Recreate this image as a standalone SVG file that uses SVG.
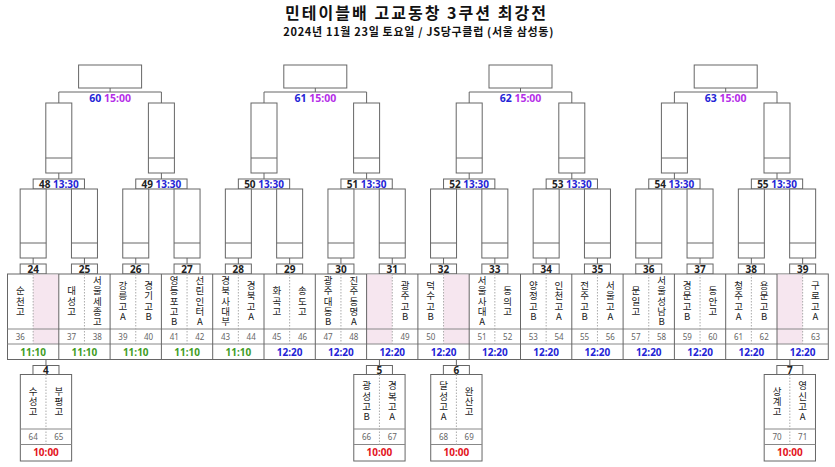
<svg xmlns="http://www.w3.org/2000/svg" width="835" height="467" viewBox="0 0 835 467">
<defs>
<style>
.bx{fill:#fff;stroke:#666;stroke-width:1}
.ln{stroke:#666;stroke-width:1;fill:none}
.lt{stroke:#888;stroke-width:1;fill:none}
.ds{stroke:#aaa;stroke-width:1;stroke-dasharray:1.5 1.5;fill:none}
.pk{fill:#f6e6ef}
.lb{font-family:"Noto Sans","Noto Sans CJK KR",sans-serif;font-weight:bold;font-size:10px;text-anchor:middle;fill:#222}
.l3{font-size:10.5px}
.nm{font-family:"Noto Sans CJK KR","Noto Sans",sans-serif;font-size:9.5px;text-anchor:middle;fill:#222;writing-mode:vertical-rl;text-orientation:upright;letter-spacing:0.9px}
.nu{font-family:"Noto Sans","Noto Sans CJK KR",sans-serif;font-size:8px;text-anchor:middle;fill:#666}
.tm{font-family:"Noto Sans","Noto Sans CJK KR",sans-serif;font-weight:bold;font-size:10px;text-anchor:middle}
.bl{fill:#2424d6}.mg{fill:#b52ee8}.gr{fill:#3f9c1f}.rd{fill:#e3141c}
.ti{font-family:"Noto Sans CJK KR","Noto Sans",sans-serif;font-weight:bold;text-anchor:middle;fill:#111}
</style>
</defs>
<rect width="835" height="467" fill="#fff"/>
<g id="title">
<text class="ti" x="415.5" y="18.7" font-size="16" textLength="261" lengthAdjust="spacing">민테이블배 고교동창 3쿠션 최강전</text>
<text class="ti" x="418.3" y="36" font-size="11" textLength="270" lengthAdjust="spacing">2024년 11월 23일 토요일 / JS당구클럽 (서울 삼성동)</text>
</g>
<g id="connectors" class="ln">
<path d="M58.8 103V92H161.4V103M110.1 88V92"/>
<path d="M264 103V92H366.6V103M315.3 88V92"/>
<path d="M469.2 103V92H571.8V103M520.5 88V92"/>
<path d="M674.4 103V92H777V103M725.7 88V92"/>
<path d="M58.8 173V179M161.4 173V179M264 173V179M366.6 173V179M469.2 173V179M571.8 173V179M674.4 173V179M777 173V179"/>
<path d="M33.15 258V264M84.45 258V264M135.75 258V264M187.05 258V264M238.35 258V264M289.65 258V264M340.95 258V264M392.25 258V264M443.55 258V264M494.85 258V264M546.15 258V264M597.45 258V264M648.75 258V264M700.05 258V264M751.35 258V264M802.65 258V264"/>
<path d="M45.98 359.5V365.5M379.43 359.5V365.5M456.38 359.5V365.5M789.83 359.5V365.5"/>
</g>
<g id="m60"><rect class="bx" x="78.6" y="65" width="63" height="23"/><text class="lb l3" x="110.1" y="101.5"><tspan class="bl">60</tspan> <tspan class="mg">15:00</tspan></text></g>
<g id="m61"><rect class="bx" x="283.8" y="65" width="63" height="23"/><text class="lb l3" x="315.3" y="101.5"><tspan class="bl">61</tspan> <tspan class="mg">15:00</tspan></text></g>
<g id="m62"><rect class="bx" x="489" y="65" width="63" height="23"/><text class="lb l3" x="520.5" y="101.5"><tspan class="bl">62</tspan> <tspan class="mg">15:00</tspan></text></g>
<g id="m63"><rect class="bx" x="694.2" y="65" width="63" height="23"/><text class="lb l3" x="725.7" y="101.5"><tspan class="bl">63</tspan> <tspan class="mg">15:00</tspan></text></g>
<g id="m48"><rect class="bx" x="45.8" y="103" width="26" height="70"/><path class="ln" d="M45.8 158H71.8"/><rect class="bx" x="33.15" y="179" width="51.3" height="10"/><text class="lb" x="58.8" y="187.6">48 <tspan class="bl">13:30</tspan></text></g>
<g id="m49"><rect class="bx" x="148.4" y="103" width="26" height="70"/><path class="ln" d="M148.4 158H174.4"/><rect class="bx" x="135.75" y="179" width="51.3" height="10"/><text class="lb" x="161.4" y="187.6">49 <tspan class="bl">13:30</tspan></text></g>
<g id="m50"><rect class="bx" x="251" y="103" width="26" height="70"/><path class="ln" d="M251 158H277"/><rect class="bx" x="238.35" y="179" width="51.3" height="10"/><text class="lb" x="264" y="187.6">50 <tspan class="bl">13:30</tspan></text></g>
<g id="m51"><rect class="bx" x="353.6" y="103" width="26" height="70"/><path class="ln" d="M353.6 158H379.6"/><rect class="bx" x="340.95" y="179" width="51.3" height="10"/><text class="lb" x="366.6" y="187.6">51 <tspan class="bl">13:30</tspan></text></g>
<g id="m52"><rect class="bx" x="456.2" y="103" width="26" height="70"/><path class="ln" d="M456.2 158H482.2"/><rect class="bx" x="443.55" y="179" width="51.3" height="10"/><text class="lb" x="469.2" y="187.6">52 <tspan class="bl">13:30</tspan></text></g>
<g id="m53"><rect class="bx" x="558.8" y="103" width="26" height="70"/><path class="ln" d="M558.8 158H584.8"/><rect class="bx" x="546.15" y="179" width="51.3" height="10"/><text class="lb" x="571.8" y="187.6">53 <tspan class="bl">13:30</tspan></text></g>
<g id="m54"><rect class="bx" x="661.4" y="103" width="26" height="70"/><path class="ln" d="M661.4 158H687.4"/><rect class="bx" x="648.75" y="179" width="51.3" height="10"/><text class="lb" x="674.4" y="187.6">54 <tspan class="bl">13:30</tspan></text></g>
<g id="m55"><rect class="bx" x="764" y="103" width="26" height="70"/><path class="ln" d="M764 158H790"/><rect class="bx" x="751.35" y="179" width="51.3" height="10"/><text class="lb" x="777" y="187.6">55 <tspan class="bl">13:30</tspan></text></g>
<g id="r32-heads">
<g id="m24h"><rect class="bx" x="20.15" y="189" width="26" height="69"/><path class="ln" d="M20.15 243H46.15"/><rect class="bx" x="20.15" y="264" width="26" height="10"/><text class="lb" x="33.15" y="272.6">24</text></g>
<g id="m25h"><rect class="bx" x="71.45" y="189" width="26" height="69"/><path class="ln" d="M71.45 243H97.45"/><rect class="bx" x="71.45" y="264" width="26" height="10"/><text class="lb" x="84.45" y="272.6">25</text></g>
<g id="m26h"><rect class="bx" x="122.75" y="189" width="26" height="69"/><path class="ln" d="M122.75 243H148.75"/><rect class="bx" x="122.75" y="264" width="26" height="10"/><text class="lb" x="135.75" y="272.6">26</text></g>
<g id="m27h"><rect class="bx" x="174.05" y="189" width="26" height="69"/><path class="ln" d="M174.05 243H200.05"/><rect class="bx" x="174.05" y="264" width="26" height="10"/><text class="lb" x="187.05" y="272.6">27</text></g>
<g id="m28h"><rect class="bx" x="225.35" y="189" width="26" height="69"/><path class="ln" d="M225.35 243H251.35"/><rect class="bx" x="225.35" y="264" width="26" height="10"/><text class="lb" x="238.35" y="272.6">28</text></g>
<g id="m29h"><rect class="bx" x="276.65" y="189" width="26" height="69"/><path class="ln" d="M276.65 243H302.65"/><rect class="bx" x="276.65" y="264" width="26" height="10"/><text class="lb" x="289.65" y="272.6">29</text></g>
<g id="m30h"><rect class="bx" x="327.95" y="189" width="26" height="69"/><path class="ln" d="M327.95 243H353.95"/><rect class="bx" x="327.95" y="264" width="26" height="10"/><text class="lb" x="340.95" y="272.6">30</text></g>
<g id="m31h"><rect class="bx" x="379.25" y="189" width="26" height="69"/><path class="ln" d="M379.25 243H405.25"/><rect class="bx" x="379.25" y="264" width="26" height="10"/><text class="lb" x="392.25" y="272.6">31</text></g>
<g id="m32h"><rect class="bx" x="430.55" y="189" width="26" height="69"/><path class="ln" d="M430.55 243H456.55"/><rect class="bx" x="430.55" y="264" width="26" height="10"/><text class="lb" x="443.55" y="272.6">32</text></g>
<g id="m33h"><rect class="bx" x="481.85" y="189" width="26" height="69"/><path class="ln" d="M481.85 243H507.85"/><rect class="bx" x="481.85" y="264" width="26" height="10"/><text class="lb" x="494.85" y="272.6">33</text></g>
<g id="m34h"><rect class="bx" x="533.15" y="189" width="26" height="69"/><path class="ln" d="M533.15 243H559.15"/><rect class="bx" x="533.15" y="264" width="26" height="10"/><text class="lb" x="546.15" y="272.6">34</text></g>
<g id="m35h"><rect class="bx" x="584.45" y="189" width="26" height="69"/><path class="ln" d="M584.45 243H610.45"/><rect class="bx" x="584.45" y="264" width="26" height="10"/><text class="lb" x="597.45" y="272.6">35</text></g>
<g id="m36h"><rect class="bx" x="635.75" y="189" width="26" height="69"/><path class="ln" d="M635.75 243H661.75"/><rect class="bx" x="635.75" y="264" width="26" height="10"/><text class="lb" x="648.75" y="272.6">36</text></g>
<g id="m37h"><rect class="bx" x="687.05" y="189" width="26" height="69"/><path class="ln" d="M687.05 243H713.05"/><rect class="bx" x="687.05" y="264" width="26" height="10"/><text class="lb" x="700.05" y="272.6">37</text></g>
<g id="m38h"><rect class="bx" x="738.35" y="189" width="26" height="69"/><path class="ln" d="M738.35 243H764.35"/><rect class="bx" x="738.35" y="264" width="26" height="10"/><text class="lb" x="751.35" y="272.6">38</text></g>
<g id="m39h"><rect class="bx" x="789.65" y="189" width="26" height="69"/><path class="ln" d="M789.65 243H815.65"/><rect class="bx" x="789.65" y="264" width="26" height="10"/><text class="lb" x="802.65" y="272.6">39</text></g>
</g>
<g id="table">
<rect class="bx" x="7.5" y="274" width="820.8" height="85.5"/>
<rect class="pk" x="33.15" y="274.5" width="25.65" height="69.5"/>
<rect class="pk" x="366.6" y="274.5" width="25.65" height="69.5"/>
<rect class="pk" x="443.55" y="274.5" width="25.65" height="69.5"/>
<rect class="pk" x="777" y="274.5" width="25.65" height="69.5"/>
<path class="lt" d="M7.5 329H828.3M7.5 344H828.3"/>
<path class="ds" d="M33.15 274V344M84.45 274V344M135.75 274V344M187.05 274V344M238.35 274V344M289.65 274V344M340.95 274V344M392.25 274V344M443.55 274V344M494.85 274V344M546.15 274V344M597.45 274V344M648.75 274V344M700.05 274V344M751.35 274V344M802.65 274V344"/>
<path class="ln" d="M58.8 274V359.5M110.1 274V359.5M161.4 274V359.5M212.7 274V359.5M264 274V359.5M315.3 274V359.5M366.6 274V359.5M417.9 274V359.5M469.2 274V359.5M520.5 274V359.5M571.8 274V359.5M623.1 274V359.5M674.4 274V359.5M725.7 274V359.5M777 274V359.5"/>
<g id="names" class="nm">
<text x="20.33" y="301.5">순천고</text>
<text x="71.63" y="301.5">대성고</text>
<text x="97.28" y="301.5">서울세종고</text>
<text x="122.93" y="301.5">강릉고A</text>
<text x="148.58" y="301.5">경기고B</text>
<text x="174.23" y="301.5">영등포고B</text>
<text x="199.88" y="301.5">선린인터A</text>
<text x="225.53" y="301.5">경북사대부</text>
<text x="251.18" y="301.5">경북고A</text>
<text x="276.83" y="301.5">화곡고</text>
<text x="302.48" y="301.5">송도고</text>
<text x="328.13" y="301.5">광주대동B</text>
<text x="353.78" y="301.5">진주동명A</text>
<text x="405.08" y="301.5">광주고B</text>
<text x="430.73" y="301.5">덕수고B</text>
<text x="482.03" y="301.5">서울사대A</text>
<text x="507.68" y="301.5">동의고</text>
<text x="533.33" y="301.5">양정고B</text>
<text x="558.98" y="301.5">인천고A</text>
<text x="584.63" y="301.5">전주고B</text>
<text x="610.28" y="301.5">서울고A</text>
<text x="635.93" y="301.5">문일고</text>
<text x="661.58" y="301.5">서울성남B</text>
<text x="687.23" y="301.5">경문고B</text>
<text x="712.88" y="301.5">동안고</text>
<text x="738.53" y="301.5">청주고A</text>
<text x="764.18" y="301.5">용문고B</text>
<text x="815.48" y="301.5">구로고A</text>
</g>
<g id="nums" class="nu">
<text x="20.33" y="339.5">36</text><text x="71.63" y="339.5">37</text><text x="97.28" y="339.5">38</text><text x="122.93" y="339.5">39</text><text x="148.58" y="339.5">40</text><text x="174.23" y="339.5">41</text><text x="199.88" y="339.5">42</text><text x="225.53" y="339.5">43</text><text x="251.18" y="339.5">44</text><text x="276.83" y="339.5">45</text><text x="302.48" y="339.5">46</text><text x="328.13" y="339.5">47</text><text x="353.78" y="339.5">48</text><text x="405.08" y="339.5">49</text><text x="430.73" y="339.5">50</text><text x="482.03" y="339.5">51</text><text x="507.68" y="339.5">52</text><text x="533.33" y="339.5">53</text><text x="558.98" y="339.5">54</text><text x="584.63" y="339.5">55</text><text x="610.28" y="339.5">56</text><text x="635.93" y="339.5">57</text><text x="661.58" y="339.5">58</text><text x="687.23" y="339.5">59</text><text x="712.88" y="339.5">60</text><text x="738.53" y="339.5">61</text><text x="764.18" y="339.5">62</text><text x="815.48" y="339.5">63</text>
</g>
<g id="times" class="tm">
<text class="gr" x="33.15" y="355.5">11:10</text><text class="gr" x="84.45" y="355.5">11:10</text><text class="gr" x="135.75" y="355.5">11:10</text><text class="gr" x="187.05" y="355.5">11:10</text><text class="gr" x="238.35" y="355.5">11:10</text>
<text class="bl" x="289.65" y="355.5">12:20</text><text class="bl" x="340.95" y="355.5">12:20</text><text class="bl" x="392.25" y="355.5">12:20</text><text class="bl" x="443.55" y="355.5">12:20</text><text class="bl" x="494.85" y="355.5">12:20</text><text class="bl" x="546.15" y="355.5">12:20</text><text class="bl" x="597.45" y="355.5">12:20</text><text class="bl" x="648.75" y="355.5">12:20</text><text class="bl" x="700.05" y="355.5">12:20</text><text class="bl" x="751.35" y="355.5">12:20</text><text class="bl" x="802.65" y="355.5">12:20</text>
</g>
</g>
<g id="m4">
<rect class="bx" x="32.98" y="365.5" width="26" height="9"/><text class="lb" x="45.98" y="373.6">4</text>
<rect class="bx" x="20.33" y="374.5" width="51.3" height="86.5"/>
<path class="lt" d="M20.33 429H71.63M20.33 444.5H71.63"/><path class="ds" d="M45.98 374.5V444.5"/>
<text class="nm" x="33.15" y="401.75">수성고</text>
<text class="nm" x="58.8" y="401.75">부평고</text>
<text class="nu" x="33.15" y="439.5">64</text><text class="nu" x="58.8" y="439.5">65</text>
<text class="tm rd" x="45.98" y="456.3">10:00</text>
</g>
<g id="m5">
<rect class="bx" x="366.43" y="365.5" width="26" height="9"/><text class="lb" x="379.43" y="373.6">5</text>
<rect class="bx" x="353.78" y="374.5" width="51.3" height="86.5"/>
<path class="lt" d="M353.78 429H405.08M353.78 444.5H405.08"/><path class="ds" d="M379.43 374.5V444.5"/>
<text class="nm" x="366.6" y="401.75">광성고B</text>
<text class="nm" x="392.25" y="401.75">경복고A</text>
<text class="nu" x="366.6" y="439.5">66</text><text class="nu" x="392.25" y="439.5">67</text>
<text class="tm rd" x="379.43" y="456.3">10:00</text>
</g>
<g id="m6">
<rect class="bx" x="443.38" y="365.5" width="26" height="9"/><text class="lb" x="456.38" y="373.6">6</text>
<rect class="bx" x="430.73" y="374.5" width="51.3" height="86.5"/>
<path class="lt" d="M430.73 429H482.03M430.73 444.5H482.03"/><path class="ds" d="M456.38 374.5V444.5"/>
<text class="nm" x="443.55" y="401.75">달성고A</text>
<text class="nm" x="469.2" y="401.75">완산고</text>
<text class="nu" x="443.55" y="439.5">68</text><text class="nu" x="469.2" y="439.5">69</text>
<text class="tm rd" x="456.38" y="456.3">10:00</text>
</g>
<g id="m7">
<rect class="bx" x="776.83" y="365.5" width="26" height="9"/><text class="lb" x="789.83" y="373.6">7</text>
<rect class="bx" x="764.18" y="374.5" width="51.3" height="86.5"/>
<path class="lt" d="M764.18 429H815.48M764.18 444.5H815.48"/><path class="ds" d="M789.83 374.5V444.5"/>
<text class="nm" x="777" y="401.75">상계고</text>
<text class="nm" x="802.65" y="401.75">영신고A</text>
<text class="nu" x="777" y="439.5">70</text><text class="nu" x="802.65" y="439.5">71</text>
<text class="tm rd" x="789.83" y="456.3">10:00</text>
</g>
</svg>
